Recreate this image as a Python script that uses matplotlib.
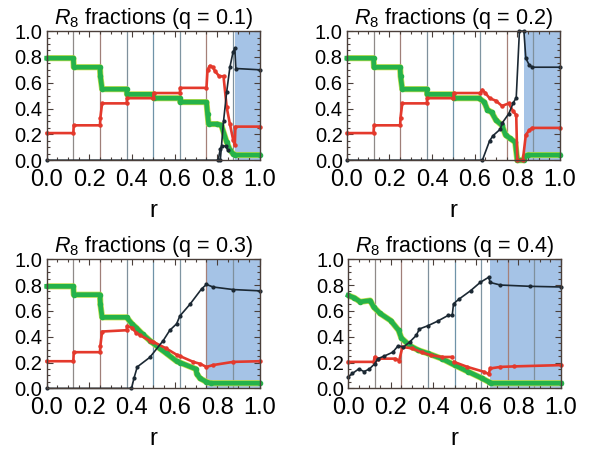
import numpy as np
import matplotlib
matplotlib.use("Agg")
import matplotlib.pyplot as plt
from matplotlib.ticker import MultipleLocator

plt.rcParams['font.family'] = ['Liberation Sans', 'DejaVu Sans']
plt.rcParams['mathtext.fontset'] = 'custom'
plt.rcParams['mathtext.rm'] = 'Liberation Sans'
plt.rcParams['mathtext.it'] = 'Liberation Sans:italic'

q_values = [0.1, 0.2, 0.3, 0.4]
shade_start = [0.885, 0.83, 0.75, 0.667]

# q = 0.1
green_r_1 = [0, 0.125, 0.127, 0.25, 0.252, 0.26, 0.375, 0.377, 0.5, 0.502, 0.625, 0.627, 0.75, 0.755,
             0.76, 0.80, 0.82, 0.845, 0.86, 0.875, 0.885, 1.0]
green_v_1 = [0.79, 0.79, 0.72, 0.72, 0.65, 0.55, 0.55, 0.51, 0.51, 0.48, 0.48, 0.45, 0.45, 0.36,
             0.28, 0.28, 0.27, 0.14, 0.08, 0.05, 0.04, 0.04]
red_r_1 = [0, 0.125, 0.127, 0.25, 0.252, 0.26, 0.375, 0.377, 0.5, 0.502, 0.625, 0.627, 0.75, 0.755,
           0.765, 0.78, 0.79, 0.81, 0.83, 0.845, 0.86, 0.875, 0.883, 0.886, 1.0]
red_v_1 = [0.21, 0.21, 0.27, 0.27, 0.33, 0.44, 0.44, 0.48, 0.48, 0.52, 0.52, 0.56, 0.56, 0.70,
           0.73, 0.72, 0.69, 0.65, 0.65, 0.41, 0.28, 0.16, 0.12, 0.26, 0.26]
black_r_1 = [0, 0.815, 0.83, 0.845, 0.86, 0.875, 0.883, 0.888, 1.0]
black_v_1 = [0, 0, 0.30, 0.53, 0.72, 0.84, 0.865, 0.71, 0.70]
bump_r_1 = [0.805, 0.815, 0.825, 0.84, 0.85]
bump_v_1 = [0, 0.09, 0.11, 0.11, 0.08]

# q = 0.2
green_r_2 = [0, 0.125, 0.127, 0.25, 0.252, 0.26, 0.375, 0.377, 0.5, 0.502, 0.62, 0.645, 0.66, 0.68,
             0.70, 0.728, 0.745, 0.765, 0.79, 0.80, 0.83, 0.835, 0.85, 1.0]
green_v_2 = [0.79, 0.79, 0.72, 0.72, 0.65, 0.55, 0.55, 0.51, 0.51, 0.48, 0.48, 0.45, 0.39, 0.37,
             0.31, 0.27, 0.195, 0.17, 0.14, 0.0, 0.0, 0.03, 0.04, 0.04]
red_r_2 = [0, 0.125, 0.127, 0.25, 0.252, 0.26, 0.375, 0.377, 0.5, 0.502, 0.625, 0.636, 0.65, 0.67,
           0.70, 0.728, 0.76, 0.78, 0.795, 0.80, 0.826, 0.84, 0.855, 0.87, 1.0]
red_v_2 = [0.21, 0.21, 0.27, 0.27, 0.33, 0.44, 0.44, 0.48, 0.48, 0.52, 0.52, 0.545, 0.52, 0.48,
           0.46, 0.42, 0.44, 0.38, 0.35, 0.0, 0.0, 0.195, 0.23, 0.25, 0.25]
black_r_2 = [0, 0.636, 0.67, 0.686, 0.72, 0.73, 0.76, 0.78, 0.795, 0.81, 0.831, 0.84, 0.855, 0.87, 1.0]
black_v_2 = [0, 0, 0.15, 0.19, 0.24, 0.29, 0.36, 0.44, 0.485, 1.0, 1.0, 0.79, 0.74, 0.72, 0.72]

# q = 0.3
green_r_3 = [0, 0.125, 0.127, 0.25, 0.252, 0.26, 0.375, 0.40, 0.42, 0.45, 0.484, 0.53, 0.5625, 0.61,
             0.625, 0.70, 0.705, 0.72, 0.75, 0.77, 1.0]
green_v_3 = [0.79, 0.79, 0.725, 0.725, 0.65, 0.55, 0.55, 0.50, 0.47, 0.42, 0.37, 0.31, 0.27, 0.21,
             0.20, 0.15, 0.11, 0.077, 0.05, 0.04, 0.04]
red_r_3 = [0, 0.125, 0.127, 0.25, 0.252, 0.26, 0.375, 0.377, 0.40, 0.42, 0.44, 0.484, 0.5, 0.56,
           0.61, 0.625, 0.688, 0.72, 0.75, 0.78, 0.875, 1.0]
red_v_3 = [0.21, 0.21, 0.28, 0.28, 0.33, 0.44, 0.45, 0.48, 0.47, 0.43, 0.41, 0.37, 0.36, 0.31,
           0.26, 0.25, 0.205, 0.19, 0.166, 0.18, 0.205, 0.21]
black_r_3 = [0, 0.398, 0.41, 0.425, 0.484, 0.547, 0.578, 0.61, 0.625, 0.672, 0.727, 0.75, 0.78,
             0.875, 1.0]
black_v_3 = [0, 0, 0.08, 0.166, 0.24, 0.37, 0.45, 0.50, 0.56, 0.65, 0.77, 0.805, 0.785, 0.765, 0.755]

# q = 0.4
green_r_4 = [0, 0.03, 0.057, 0.104, 0.12, 0.15, 0.20, 0.237, 0.25, 0.29, 0.33, 0.375, 0.44, 0.5,
             0.565, 0.63, 0.66, 0.67, 1.0]
green_v_4 = [0.72, 0.70, 0.67, 0.68, 0.63, 0.58, 0.525, 0.45, 0.39, 0.33, 0.295, 0.27, 0.23, 0.18,
             0.128, 0.077, 0.05, 0.04, 0.04]
red_r_4 = [0, 0.12, 0.125, 0.14, 0.22, 0.24, 0.255, 0.30, 0.345, 0.39, 0.44, 0.49, np.nan,
           0.497, 0.56, 0.638, 0.66, 0.667, 0.715, 0.78, 1.0]
red_v_4 = [0.205, 0.205, 0.243, 0.23, 0.23, 0.215, 0.32, 0.31, 0.28, 0.256, 0.243, 0.243, np.nan,
           0.205, 0.166, 0.128, 0.11, 0.154, 0.166, 0.17, 0.18]
black_r_4 = [0, 0.02, 0.05, 0.075, 0.10, 0.125, 0.14, 0.17, 0.21, 0.235, 0.26, 0.29, 0.32, 0.335,
             0.375, 0.42, 0.47, 0.489, 0.495, 0.52, 0.575, 0.62, 0.66, 0.667, 0.715, 0.855, 1.0]
black_v_4 = [0.09, 0.115, 0.15, 0.13, 0.15, 0.19, 0.23, 0.25, 0.28, 0.33, 0.32, 0.36, 0.41, 0.46,
             0.485, 0.52, 0.565, 0.565, 0.655, 0.69, 0.756, 0.82, 0.86, 0.82, 0.80, 0.79, 0.785]

greens = [(green_r_1, green_v_1), (green_r_2, green_v_2), (green_r_3, green_v_3), (green_r_4, green_v_4)]
reds = [(red_r_1, red_v_1), (red_r_2, red_v_2), (red_r_3, red_v_3), (red_r_4, red_v_4)]
blacks = [(black_r_1, black_v_1), (black_r_2, black_v_2), (black_r_3, black_v_3), (black_r_4, black_v_4)]

vline_colors = ['#8f8a88', '#a07f78', '#7f909c', '#6f93a8', '#7f95a2', '#a58078', '#7f909c']

fig = plt.figure(figsize=(5.95, 4.5), dpi=100)
positions = [(0.0785, 0.644), (0.583, 0.644), (0.0785, 0.137), (0.585, 0.137)]

for i, q in enumerate(q_values):
    ax = fig.add_axes([positions[i][0], positions[i][1], 0.358, 0.287])
    ax.axvspan(shade_start[i], 1.0, color='#a5c3e6', zorder=0, lw=0)
    for k in range(1, 8):
        ax.axvline(k / 8, color=vline_colors[k - 1], lw=0.9, zorder=1)

    gr, gv = greens[i]
    rr, rv = reds[i]
    br, bv = blacks[i]
    ax.plot(gr, gv, color='#c8e04a', lw=4.4, zorder=2, solid_capstyle='butt', clip_on=False)
    ax.plot(gr, gv, color='#25b24a', lw=3.4, zorder=3, marker='o', ms=3, mec='#25b24a', clip_on=False)
    ax.plot(rr, rv, color='#e4392c', lw=1.9, zorder=4, marker='o', ms=2.2, clip_on=False)
    ax.plot(br, bv, color='#1b2833', lw=1.2, zorder=5, marker='o', ms=2, clip_on=False)
    if i == 0:
        ax.plot(bump_r_1, bump_v_1, color='#1b2833', lw=1.2, zorder=5, marker='o', ms=2, clip_on=False)

    ax.set_xlim(0, 1)
    ax.set_ylim(0, 1)
    ax.xaxis.set_major_locator(MultipleLocator(0.2))
    ax.yaxis.set_major_locator(MultipleLocator(0.2))
    ax.xaxis.set_minor_locator(MultipleLocator(0.05))
    ax.yaxis.set_minor_locator(MultipleLocator(0.05))
    ax.xaxis.set_major_formatter(matplotlib.ticker.FormatStrFormatter('%.1f'))
    ax.yaxis.set_major_formatter(matplotlib.ticker.FormatStrFormatter('%.1f'))
    ax.tick_params(which='both', direction='in', top=True, right=True, color='#4a3f3a', width=0.8)
    ax.tick_params(which='major', length=4)
    ax.tick_params(which='minor', length=2)
    ax.tick_params(axis='x', labelsize=17, pad=6)
    ax.tick_params(axis='y', labelsize=14.5, pad=3)
    for s in ax.spines.values():
        s.set_color('#4a3f3a')
        s.set_linewidth(1.0)
        s.set_zorder(6)
    ax.set_xlabel('r', fontsize=17, labelpad=7)
    ax.set_title('$R_8$ fractions (q = %.1f)' % q, fontsize=15.5, pad=4)

fig.savefig('out.png', dpi=100)
